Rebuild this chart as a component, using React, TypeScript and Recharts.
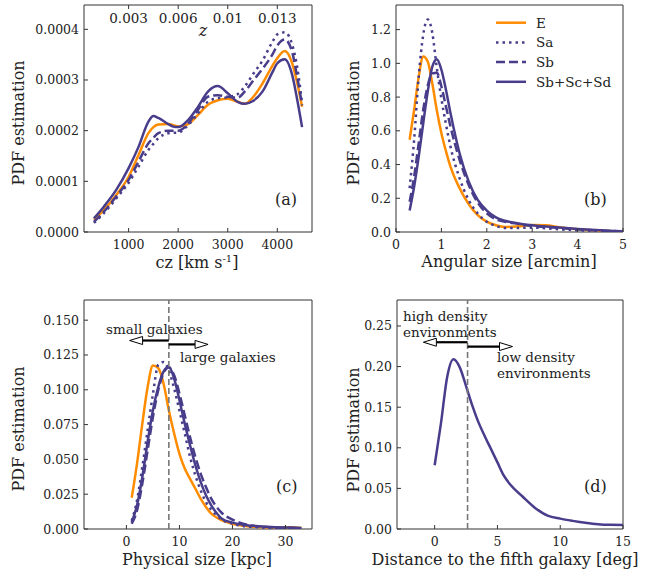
import { Line, LineChart, ReferenceArea, ReferenceLine, XAxis, YAxis } from "recharts";

const ORANGE = "#FF8C00";
const PURPLE = "#483D8B";
const INK = "#222";
const FRAME = "#333";
const SERIF = "'DejaVu Serif', serif";
const W = 646;
const H = 574;

// (a) redshift / cz
const czX = [300, 500, 750, 1000, 1200, 1400, 1500, 1600, 1800, 1900, 2000, 2200, 2400, 2600, 2800, 3000, 3200, 3350, 3500, 3700, 3900, 4000, 4150, 4300, 4400, 4500];
const czE = [0.000024, 0.000043, 0.000073, 0.000109, 0.000152, 0.000195, 0.000207, 0.000212, 0.000213, 0.000211, 0.000208, 0.000213, 0.000231, 0.000251, 0.00026, 0.000263, 0.000257, 0.000253, 0.000265, 0.000293, 0.000328, 0.000343, 0.000357, 0.000333, 0.000295, 0.000247];
const czSa = [0.000018, 0.000037, 0.000066, 0.000097, 0.000129, 0.000162, 0.000174, 0.000185, 0.000195, 0.000196, 0.000196, 0.000211, 0.000234, 0.000257, 0.000264, 0.000266, 0.000272, 0.000288, 0.00031, 0.000338, 0.000375, 0.00039, 0.000394, 0.00037, 0.000326, 0.000254];
const czSb = [0.00002, 0.00004, 0.00007, 0.000103, 0.000139, 0.000175, 0.000186, 0.000195, 0.0002, 0.0002, 0.0002, 0.000214, 0.000241, 0.000267, 0.00027, 0.000267, 0.000265, 0.000278, 0.000297, 0.000322, 0.00035, 0.000368, 0.00038, 0.000355, 0.000307, 0.00025];
const czLate = [0.000027, 0.00005, 0.000083, 0.000126, 0.000168, 0.000218, 0.000229, 0.000225, 0.000213, 0.000208, 0.000207, 0.000221, 0.000247, 0.000277, 0.000288, 0.000274, 0.000257, 0.000253, 0.000258, 0.000277, 0.000315, 0.000333, 0.000341, 0.00031, 0.000262, 0.000207];
const czTicks = [1000, 2000, 3000, 4000];
const zLabels = ["0.003", "0.006", "0.01", "0.013"];
const czYTicks = [0, 0.0001, 0.0002, 0.0003, 0.0004];

// (b) angular size
const angX = [0.3, 0.4, 0.5, 0.6, 0.7, 0.8, 0.9, 1.0, 1.1, 1.2, 1.4, 1.6, 1.8, 2.0, 2.2, 2.4, 2.7, 3.0, 3.3, 3.6, 4.0, 4.5, 5.0];
const angE = [0.547, 0.725, 0.92, 1.04, 1.01, 0.88, 0.72, 0.586, 0.48, 0.388, 0.26, 0.166, 0.1, 0.061, 0.04, 0.03, 0.034, 0.042, 0.04, 0.028, 0.016, 0.008, 0.004];
const angSa = [0.26, 0.55, 0.92, 1.17, 1.26, 1.18, 0.97, 0.79, 0.64, 0.507, 0.319, 0.19, 0.11, 0.061, 0.036, 0.024, 0.024, 0.026, 0.022, 0.016, 0.01, 0.006, 0.004];
const angSb = [0.18, 0.33, 0.527, 0.725, 0.87, 0.94, 0.945, 0.863, 0.745, 0.626, 0.428, 0.28, 0.174, 0.111, 0.075, 0.061, 0.048, 0.036, 0.03, 0.024, 0.016, 0.008, 0.004];
const angLate = [0.127, 0.27, 0.447, 0.645, 0.834, 0.98, 1.025, 0.962, 0.844, 0.705, 0.467, 0.3, 0.19, 0.127, 0.087, 0.067, 0.051, 0.04, 0.032, 0.026, 0.018, 0.01, 0.004];
const angTicks = [0, 1, 2, 3, 4, 5];
const angYTicks = [0, 0.2, 0.4, 0.6, 0.8, 1.0, 1.2];

// (c) physical size
const physX = [1, 2, 3, 4, 5, 6, 7, 8, 9, 10, 11, 12, 13, 14, 15, 16, 17, 18, 20, 22, 25, 28, 31, 33];
const physE = [0.0225, 0.047, 0.0757, 0.102, 0.1175, 0.1155, 0.1045, 0.0853, 0.0686, 0.054, 0.0434, 0.036, 0.029, 0.0218, 0.0158, 0.011, 0.0083, 0.0062, 0.0038, 0.0024, 0.0014, 0.001, 0.0012, 0.0007];
const physSa = [0.006, 0.0206, 0.0446, 0.071, 0.097, 0.118, 0.12, 0.114, 0.101, 0.085, 0.0686, 0.0518, 0.0386, 0.0278, 0.0194, 0.0139, 0.0098, 0.0067, 0.0038, 0.0022, 0.0012, 0.0007, 0.0007, 0.0005];
const physSb = [0.0038, 0.0134, 0.0326, 0.0566, 0.0805, 0.0997, 0.112, 0.116, 0.1105, 0.0973, 0.0817, 0.066, 0.0518, 0.0398, 0.0302, 0.0218, 0.0158, 0.0115, 0.0067, 0.0038, 0.0019, 0.001, 0.0007, 0.0005];
const physLate = [0.005, 0.017, 0.0374, 0.0626, 0.0853, 0.102, 0.113, 0.1165, 0.108, 0.0925, 0.0757, 0.0602, 0.0458, 0.0338, 0.0242, 0.017, 0.0115, 0.0074, 0.0046, 0.0031, 0.0019, 0.0012, 0.001, 0.0007];
const physTicks = [0, 10, 20, 30];
const physYTicks = [0, 0.025, 0.05, 0.075, 0.1, 0.125, 0.15];
const physCut = 8;

// (d) distance to the fifth neighbour
const distX = [0, 0.5, 1, 1.5, 2, 2.5, 3, 3.5, 4, 4.5, 5, 5.5, 6, 7, 8, 9, 10, 11, 12, 13, 14, 15];
const distPdf = [0.0785, 0.13, 0.1875, 0.209, 0.199, 0.176, 0.152, 0.131, 0.114, 0.098, 0.082, 0.066, 0.055, 0.04, 0.026, 0.0165, 0.0128, 0.01, 0.0076, 0.0058, 0.0051, 0.005];
const distTicks = [0, 5, 10, 15];
const distYTicks = [0, 0.05, 0.1, 0.15, 0.2, 0.25];
const distCut = 2.62;

const SERIES = [
  { key: "E", name: "E", color: ORANGE, dash: undefined },
  { key: "Sa", name: "Sa", color: PURPLE, dash: "2.5 4" },
  { key: "Sb", name: "Sb", color: PURPLE, dash: "9 4" },
  { key: "late", name: "Sb+Sc+Sd", color: PURPLE, dash: undefined },
];

function rows(xs: number[], cols: Record<string, number[]>) {
  return xs.map((x, i) => {
    const r: Record<string, number> = { x };
    for (const k in cols) r[k] = cols[k][i];
    return r;
  });
}

const czData = rows(czX, { E: czE, Sa: czSa, Sb: czSb, late: czLate });
const angData = rows(angX, { E: angE, Sa: angSa, Sb: angSb, late: angLate });
const physData = rows(physX, { E: physE, Sa: physSa, Sb: physSb, late: physLate });
const distData = rows(distX, { all: distPdf });

const tickText = { fontFamily: SERIF, fontSize: 12.5, fill: INK };

const bottomTick = (fmt: (v: number) => string) => (p: any) => (
  <g>
    <line x1={p.x} x2={p.x} y1={p.y} y2={p.y - 4} stroke={FRAME} />
    <text x={p.x} y={p.y + 17} textAnchor="middle" {...tickText}>
      {fmt(p.payload.value)}
    </text>
  </g>
);

const leftTick = (fmt: (v: number) => string) => (p: any) => (
  <g>
    <line x1={p.x} x2={p.x + 4} y1={p.y} y2={p.y} stroke={FRAME} />
    <text x={p.x - 5} y={p.y + 4.5} textAnchor="end" {...tickText}>
      {fmt(p.payload.value)}
    </text>
  </g>
);

const zTick = (p: any) => (
  <g>
    <line x1={p.x} x2={p.x} y1={p.y} y2={p.y + 4} stroke={FRAME} />
    <text x={p.x} y={p.y + 18} textAnchor="middle" {...tickText} fontSize={13.5}>
      {zLabels[czTicks.indexOf(p.payload.value)]}
    </text>
  </g>
);

// arrow from (x1,y1) to tip (x2,y2) with an open head
const Arrow = (p: any) => {
  const dir = Math.sign(p.x2 - p.x1);
  const hl = 13;
  const hw = 4;
  const bx = p.x2 - dir * hl;
  return (
    <g>
      <line x1={p.x1} y1={p.y1} x2={bx} y2={p.y2} stroke="#000" strokeWidth={2.2} />
      <polygon
        points={`${p.x2},${p.y2} ${bx},${p.y2 - hw} ${bx},${p.y2 + hw}`}
        fill="#fff"
        stroke="#000"
        strokeWidth={1}
      />
    </g>
  );
};

type Box = { l: number; r: number; t: number; b: number };
const YW = 40;
const XH = 30;
const TOPH = 5;

function margins(box: Box, top = 0) {
  return { left: box.l - YW, right: W - box.r, top: box.t - top, bottom: H - box.b - XH };
}

function seriesLines() {
  return SERIES.map((s) => (
    <Line
      key={s.key}
      type="monotone"
      dataKey={s.key}
      stroke={s.color}
      strokeWidth={2.5}
      strokeDasharray={s.dash}
      dot={false}
      isAnimationActive={false}
    />
  ));
}

const layer: React.CSSProperties = { position: "absolute", left: 0, top: 0 };

export default function App() {
  const boxA = { l: 84, r: 312, t: 5, b: 232 };
  const boxB = { l: 396, r: 623, t: 5, b: 232 };
  const boxC = { l: 84, r: 312, t: 300, b: 529 };
  const boxD = { l: 397, r: 623, t: 300, b: 529 };
  const czDom: [number, number] = [100, 4700];
  const czY: [number, number] = [0, 0.000448];
  const angDom: [number, number] = [0, 5];
  const angY: [number, number] = [0, 1.346];
  const physDom: [number, number] = [-8, 35];
  const physY: [number, number] = [0, 0.1645];
  const distDom: [number, number] = [-3, 15];
  const distY: [number, number] = [0, 0.282];

  const label = { fontFamily: SERIF, fontSize: 16, fill: INK };
  const note = { fontFamily: SERIF, fontSize: 13.5, fill: INK };
  const cut = { stroke: "#777", strokeWidth: 1.6, strokeDasharray: "6 3" };

  return (
    <div style={{ position: "absolute", left: 0, top: 0, width: W, height: H, background: "#fff" }}>
      <div style={layer}>
        <LineChart width={W} height={H} data={czData} margin={margins(boxA, TOPH)}>
          <XAxis dataKey="x" type="number" domain={czDom} ticks={czTicks} interval={0} allowDataOverflow height={XH} axisLine={false} tickLine={false} tickSize={0} tickMargin={0} tick={bottomTick((v) => String(v))} />
          <XAxis xAxisId="top" orientation="top" dataKey="x" type="number" domain={czDom} ticks={czTicks} interval={0} allowDataOverflow height={TOPH} axisLine={false} tickLine={false} tickSize={0} tickMargin={0} tick={zTick} />
          <YAxis type="number" domain={czY} ticks={czYTicks} interval={0} allowDataOverflow width={YW} axisLine={false} tickLine={false} tickSize={0} tickMargin={0} tick={leftTick((v) => v.toFixed(4))} />
          {seriesLines()}
          <ReferenceArea x1={czDom[0]} x2={czDom[1]} y1={czY[0]} y2={czY[1]} fill="none" stroke={FRAME} strokeWidth={1} fillOpacity={0} ifOverflow="visible" />
        </LineChart>
      </div>

      <div style={layer}>
        <LineChart width={W} height={H} data={angData} margin={margins(boxB)}>
          <XAxis dataKey="x" type="number" domain={angDom} ticks={angTicks} interval={0} allowDataOverflow height={XH} axisLine={false} tickLine={false} tickSize={0} tickMargin={0} tick={bottomTick((v) => String(v))} />
          <YAxis type="number" domain={angY} ticks={angYTicks} interval={0} allowDataOverflow width={YW} axisLine={false} tickLine={false} tickSize={0} tickMargin={0} tick={leftTick((v) => v.toFixed(1))} />
          {seriesLines()}
          <ReferenceArea x1={angDom[0]} x2={angDom[1]} y1={angY[0]} y2={angY[1]} fill="none" stroke={FRAME} strokeWidth={1} fillOpacity={0} ifOverflow="visible" />
        </LineChart>
      </div>

      <div style={layer}>
        <LineChart width={W} height={H} data={physData} margin={margins(boxC)}>
          <XAxis dataKey="x" type="number" domain={physDom} ticks={physTicks} interval={0} allowDataOverflow height={XH} axisLine={false} tickLine={false} tickSize={0} tickMargin={0} tick={bottomTick((v) => String(v))} />
          <YAxis type="number" domain={physY} ticks={physYTicks} interval={0} allowDataOverflow width={YW} axisLine={false} tickLine={false} tickSize={0} tickMargin={0} tick={leftTick((v) => v.toFixed(3))} />
          {seriesLines()}
          <ReferenceLine x={physCut} {...cut} />
          <ReferenceLine segment={[{ x: physCut, y: 0.1354 }, { x: 0.6, y: 0.1354 }]} shape={Arrow} ifOverflow="visible" />
          <ReferenceLine segment={[{ x: physCut, y: 0.1326 }, { x: 15.4, y: 0.1326 }]} shape={Arrow} ifOverflow="visible" />
          <ReferenceArea x1={physDom[0]} x2={physDom[1]} y1={physY[0]} y2={physY[1]} fill="none" stroke={FRAME} strokeWidth={1} fillOpacity={0} ifOverflow="visible" />
        </LineChart>
      </div>

      <div style={layer}>
        <LineChart width={W} height={H} data={distData} margin={margins(boxD)}>
          <XAxis dataKey="x" type="number" domain={distDom} ticks={distTicks} interval={0} allowDataOverflow height={XH} axisLine={false} tickLine={false} tickSize={0} tickMargin={0} tick={bottomTick((v) => String(v))} />
          <YAxis type="number" domain={distY} ticks={distYTicks} interval={0} allowDataOverflow width={YW} axisLine={false} tickLine={false} tickSize={0} tickMargin={0} tick={leftTick((v) => v.toFixed(2))} />
          <Line type="monotone" dataKey="all" stroke={PURPLE} strokeWidth={2.5} dot={false} isAnimationActive={false} />
          <ReferenceLine x={distCut} {...cut} />
          <ReferenceLine segment={[{ x: distCut, y: 0.23 }, { x: -0.9, y: 0.23 }]} shape={Arrow} ifOverflow="visible" />
          <ReferenceLine segment={[{ x: distCut, y: 0.2247 }, { x: 6.2, y: 0.2247 }]} shape={Arrow} ifOverflow="visible" />
          <ReferenceArea x1={distDom[0]} x2={distDom[1]} y1={distY[0]} y2={distY[1]} fill="none" stroke={FRAME} strokeWidth={1} fillOpacity={0} ifOverflow="visible" />
        </LineChart>
      </div>

      <svg width={W} height={H} style={{ ...layer, pointerEvents: "none" }}>
        {/* axis titles */}
        <text x={197} y={268} textAnchor="middle" {...label}>
          cz [km s<tspan dy={-6} fontSize={10}>-1</tspan>
          <tspan dy={6}>]</tspan>
        </text>
        <text x={509} y={267} textAnchor="middle" {...label}>Angular size [arcmin]</text>
        <text x={197} y={565} textAnchor="middle" {...label}>Physical size [kpc]</text>
        <text x={505} y={565} textAnchor="middle" {...label}>Distance to the fifth galaxy [deg]</text>
        <text transform="translate(24,123) rotate(-90)" textAnchor="middle" {...label}>PDF estimation</text>
        <text transform="translate(359,123) rotate(-90)" textAnchor="middle" {...label}>PDF estimation</text>
        <text transform="translate(24,429) rotate(-90)" textAnchor="middle" {...label}>PDF estimation</text>
        <text transform="translate(359,430) rotate(-90)" textAnchor="middle" {...label}>PDF estimation</text>

        <text x={203} y={36} textAnchor="middle" fontStyle="italic" {...label}>z</text>

        {/* panel letters */}
        <text x={275} y={205} {...label}>(a)</text>
        <text x={584} y={205} {...label}>(b)</text>
        <text x={276} y={492} {...label}>(c)</text>
        <text x={584} y={492} {...label}>(d)</text>

        {/* legend */}
        {SERIES.map((s, i) => {
          const y = 22.7 + i * 19.7;
          return (
            <g key={s.key}>
              <line x1={496} x2={526} y1={y} y2={y} stroke={s.color} strokeWidth={2.5} strokeDasharray={s.dash} />
              <text x={536} y={y + 5} {...note}>{s.name}</text>
            </g>
          );
        })}

        {/* annotations */}
        <text x={106} y={333.5} {...note}>small galaxies</text>
        <text x={180} y={362} {...note}>large galaxies</text>
        <text x={403} y={321} {...note}>high density</text>
        <text x={403} y={337} {...note}>environments</text>
        <text x={497} y={362} {...note}>low density</text>
        <text x={497} y={378} {...note}>environments</text>
      </svg>
    </div>
  );
}
